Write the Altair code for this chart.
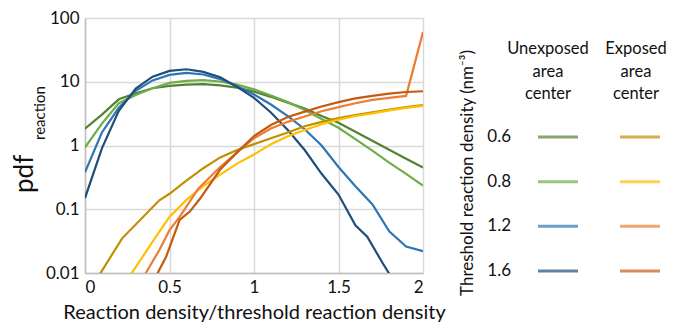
import altair as alt
import pandas as pd

# ---------------- data ----------------
series_names = ["Unexposed 0.6", "Unexposed 0.8", "Unexposed 1.2", "Unexposed 1.6",
                "Exposed 0.6", "Exposed 0.8", "Exposed 1.2", "Exposed 1.6"]
series_colors = ["#548235", "#70AD47", "#2E75B6", "#1F4E79",
                 "#BF9000", "#FFC000", "#ED7D31", "#C55A11"]

x_grid = [0.0, 0.1, 0.2, 0.3, 0.4, 0.5, 0.6, 0.7, 0.8, 0.9, 1.0,
          1.1, 1.2, 1.3, 1.4, 1.5, 1.6, 1.7, 1.8, 1.9, 2.0]

u06 = [1.83, 3.05, 5.3, 6.6, 7.9, 8.6, 9.0, 9.2, 8.8, 8.1, 7.0,
       5.8, 4.7, 3.8, 2.9, 2.27, 1.64, 1.19, 0.86, 0.62, 0.45]
u08 = [0.93, 2.2, 4.6, 6.2, 7.9, 9.6, 10.3, 10.6, 10.1, 9.0, 7.6,
       6.1, 4.8, 3.6, 2.6, 1.9, 1.26, 0.83, 0.54, 0.36, 0.235]
u12 = [0.38, 1.6, 3.9, 7.2, 10.5, 12.8, 13.8, 13.0, 11.0, 8.5, 6.3,
       4.4, 2.9, 1.8, 1.0, 0.46, 0.23, 0.12, 0.045, 0.026, 0.022]
u16_x = [0.0, 0.1, 0.2, 0.3, 0.4, 0.5, 0.6, 0.7, 0.8, 0.9, 1.0,
         1.1, 1.2, 1.3, 1.4, 1.5, 1.6, 1.67, 1.76, 1.82]
u16 = [0.15, 0.9, 3.5, 7.8, 12.0, 14.8, 15.7, 14.3, 11.8, 8.3, 5.6,
       3.3, 1.75, 0.85, 0.36, 0.17, 0.056, 0.037, 0.0145, 0.008]

e06_x = [0.05, 0.09, 0.22, 0.44, 0.5, 0.6, 0.7, 0.8, 0.9, 1.0,
         1.1, 1.2, 1.3, 1.4, 1.5, 1.6, 1.7, 1.8, 1.9, 2.0]
e06 = [0.0065, 0.0098, 0.035, 0.138, 0.175, 0.28, 0.44, 0.65, 0.85, 1.05,
       1.3, 1.6, 2.0, 2.35, 2.7, 3.0, 3.3, 3.65, 4.0, 4.3]
e08_x = [0.2, 0.3, 0.4, 0.5, 0.6, 0.7, 0.8, 0.9, 1.0,
         1.1, 1.2, 1.3, 1.4, 1.5, 1.6, 1.7, 1.8, 1.9, 2.0]
e08 = [0.005, 0.0124, 0.031, 0.076, 0.14, 0.23, 0.35, 0.52, 0.72,
       1.05, 1.4, 1.75, 2.15, 2.55, 2.9, 3.2, 3.55, 3.9, 4.2]
e12_x = [0.3, 0.36, 0.44, 0.5, 0.56, 0.67, 0.8, 0.9, 1.0,
         1.1, 1.2, 1.3, 1.4, 1.5, 1.6, 1.7, 1.8, 1.9, 2.0]
e12 = [0.005, 0.01, 0.023, 0.047, 0.076, 0.21, 0.46, 0.78, 1.3,
       1.85, 2.35, 2.85, 3.45, 4.0, 4.6, 5.2, 5.6, 6.0, 60.0]
e16_x = [0.4, 0.43, 0.48, 0.52, 0.56, 0.62, 0.68, 0.8, 0.9, 1.0,
         1.1, 1.2, 1.3, 1.4, 1.5, 1.6, 1.7, 1.8, 1.9, 2.0]
e16 = [0.006, 0.01, 0.018, 0.035, 0.068, 0.092, 0.146, 0.42, 0.78, 1.4,
       2.1, 2.8, 3.4, 4.1, 4.8, 5.5, 6.0, 6.5, 6.9, 7.1]

x_ticks = [0, 0.5, 1, 1.5, 2]
y_ticks = [0.01, 0.1, 1, 10, 100]

thresholds = ["0.6", "0.8", "1.2", "1.6"]
columns = ["Unexposed", "Exposed"]
column_headers = ["Unexposed\narea\ncenter", "Exposed\narea\ncenter"]
legend_title = ["Threshold reaction density  (nm\u207b\u00b3)"]
y_title = ["pdf"]
y_title_sub = ["reaction"]
x_title = "Reaction density/threshold reaction density"

FONT = "Lato"
INK = "#111"

# ---------------- table ----------------
series_xy = [(x_grid, u06), (x_grid, u08), (x_grid, u12), (u16_x, u16),
             (e06_x, e06), (e08_x, e08), (e12_x, e12), (e16_x, e16)]
rows = []
for name, (xs, ys) in zip(series_names, series_xy):
    for i, (xv, yv) in enumerate(zip(xs, ys)):
        rows.append({"series": name, "x": xv, "y": yv, "i": i})
df = pd.DataFrame(rows)

color_scale = alt.Scale(domain=series_names, range=series_colors)

lines = alt.Chart(df).mark_line(strokeWidth=2.2, clip=True).encode(
    x=alt.X("x:Q", scale=alt.Scale(domain=[0, 2], nice=False),
            axis=alt.Axis(values=x_ticks, format="~g", title=x_title,
                          titleFontSize=20, titlePadding=7)),
    y=alt.Y("y:Q", scale=alt.Scale(type="log", domain=[0.01, 100], nice=False),
            axis=alt.Axis(values=y_ticks, format="~g", title=None)),
    color=alt.Color("series:N", scale=color_scale, legend=None),
    detail="series:N",
    order="i:Q",
)

# y-axis title "pdf" with subscript "reaction"
pdf_text = alt.Chart(pd.DataFrame({"t": y_title})).mark_text(
    font=FONT, fontSize=26, angle=270, align="left", baseline="alphabetic", color=INK
).encode(x=alt.value(-52), y=alt.value(175), text="t:N")
sub_text = alt.Chart(pd.DataFrame({"t": y_title_sub})).mark_text(
    font=FONT, fontSize=15, angle=270, align="left", baseline="alphabetic", color=INK
).encode(x=alt.value(-40), y=alt.value(122), text="t:N")

# ---------------- legend (own point scales, placed right of the plot) ----------------
leg_rows = []
for col in columns:
    for thr in thresholds:
        leg_rows.append({"col": col, "thr": thr, "series": f"{col} {thr}"})
leg_df = pd.DataFrame(leg_rows)
head_df = pd.DataFrame({"col": columns, "head": column_headers})
thr_df = pd.DataFrame({"thr": thresholds})

x_leg = alt.Scale(type="point", domain=columns, range=[473, 555], padding=0)
y_leg = alt.Scale(type="point", domain=thresholds, range=[119, 253], padding=0)

leg_ticks = alt.Chart(leg_df).mark_tick(orient="horizontal", size=40, thickness=3).encode(
    x=alt.X("col:N", scale=x_leg, axis=None),
    y=alt.Y("thr:N", scale=y_leg, axis=None),
    color=alt.Color("series:N", scale=color_scale, legend=None),
)
head_base = alt.Chart(head_df)
head_left = head_base.transform_filter(alt.datum.col == columns[0]).mark_text(
    font=FONT, fontSize=16.5, lineBreak="\n", lineHeight=22.5, baseline="top", align="center",
    color=INK, dx=-10
).encode(x=alt.X("col:N", scale=x_leg, axis=None), y=alt.value(23), text="head:N")
head_right = head_base.transform_filter(alt.datum.col == columns[1]).mark_text(
    font=FONT, fontSize=16.5, lineBreak="\n", lineHeight=22.5, baseline="top", align="center",
    color=INK, dx=-4
).encode(x=alt.X("col:N", scale=x_leg, axis=None), y=alt.value(23), text="head:N")
leg_labels = alt.Chart(thr_df).mark_text(
    font=FONT, fontSize=17, align="right", baseline="middle", color=INK
).encode(x=alt.value(426), y=alt.Y("thr:N", scale=y_leg, axis=None), text="thr:N")
leg_title = alt.Chart(pd.DataFrame({"t": legend_title})).mark_text(
    font=FONT, fontSize=17, angle=270, align="center", baseline="alphabetic", color=INK
).encode(x=alt.value(388), y=alt.value(155), text="t:N")

chart = alt.layer(
    lines, pdf_text, sub_text, leg_ticks, head_left, head_right, leg_labels, leg_title
).resolve_scale(
    x="independent", y="independent"
).properties(
    width=338, height=255,
    autosize=alt.AutoSizeParams(type="none"),
    padding={"left": 77, "top": 10, "right": 247, "bottom": 49},
).configure_view(stroke=None).configure_axis(
    labelFont=FONT, titleFont=FONT, labelFontSize=17, labelColor=INK, titleColor=INK,
    titleFontWeight="normal", ticks=False, domainColor="#BFBFBF", domainWidth=1.5,
    gridColor="#D9D9D9", gridWidth=1.5, labelPadding=6,
)

chart.save("out.html", embed_options={"renderer": "svg", "actions": False})
